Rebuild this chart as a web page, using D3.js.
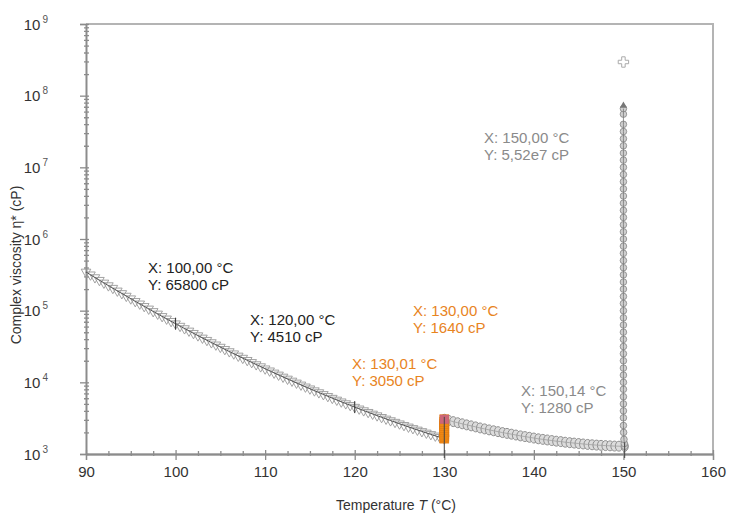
<!DOCTYPE html>
<html><head><meta charset="utf-8">
<script src="https://cdn.jsdelivr.net/npm/d3@7"></script>
<style>body{margin:0;background:#fff}svg{display:block}text{font-family:"Liberation Sans",Arial,sans-serif}</style>
</head><body><svg id="c" width="729" height="516"></svg>
<script>
// ---- data ----
const xTicks = [90,100,110,120,130,140,150,160];
const yExps = [3,4,5,6,7,8,9];
// series 1: cooling branch (triangles), 90..130 °C
const tempA = [90,90.5,91,91.5,92,92.5,93,93.5,94,94.5,95,95.5,96,96.5,97,97.5,98,98.5,99,99.5,100,100.5,101,101.5,102,102.5,103,103.5,104,104.5,105,105.5,106,106.5,107,107.5,108,108.5,109,109.5,110,110.5,111,111.5,112,112.5,113,113.5,114,114.5,115,115.5,116,116.5,117,117.5,118,118.5,119,119.5,120,120.5,121,121.5,122,122.5,123,123.5,124,124.5,125,125.5,126,126.5,127,127.5,128,128.5,129,129.5,130];
const viscA = [347000,317000,290000,266000,244000,224000,206000,189000,174000,160000,147000,135000,124600,115000,105900,97700,90140,83300,76900,71100,65800,60900,56360,52200,48400,44900,41660,38700,35940,33400,31060,28900,26910,25100,23360,21800,20320,19000,17720,16600,15480,14500,13550,12700,11890,11150,10460,9820,9215,8660,8140,7660,7205,6790,6390,6020,5680,5360,5060,4780,4510,4270,4040,3825,3622,3433,3254,3088,2931,2784,2645,2515,2391,2276,2167,2066,1969,1878,1792,1714,1640];
// series 2 : 130.01 .. 150.14 °C (grey band)
const tempB = [130.01,130.5,131,131.5,132,132.5,133,133.5,134,134.5,135,135.5,136,136.5,137,137.5,138,138.5,139,139.5,140,140.5,141,141.5,142,142.5,143,143.5,144,144.5,145,145.5,146,146.5,147,147.5,148,148.5,149,149.5,150.14];
const viscB = [3050,2940,2830,2730,2640,2550,2470,2390,2310,2240,2170,2110,2050,1990,1940,1890,1840,1790,1750,1710,1670,1630,1600,1570,1540,1510,1490,1460,1440,1420,1400,1380,1360,1345,1330,1320,1310,1300,1290,1285,1280];
// orange step at 130 °C
const tempC = [130,130,130,130,130,130,130,130,130,130];
const viscC = [1640,1750,1870,2000,2140,2290,2450,2620,2800,3050];
// vertical rise at 150 °C
const tempD = [150.14,150.1,150.06,150.02,150,150,150,150,150,150,150,150,150,150,150,150,150,150,150,150,150,150,150,150,150,150,150,150,150,150,150,150,150,150,150,150,150,150,150,150,150,150,150,150,150,150,150,150,150];
const viscD = [1280,1400,1600,2000,2500,3200,4000,5000,6300,8000,10000,12600,15800,20000,25100,31600,39800,50100,63100,79400,1e5,1.26e5,1.58e5,2e5,2.51e5,3.16e5,3.98e5,5.01e5,6.31e5,7.94e5,1e6,1.26e6,1.58e6,2e6,2.51e6,3.16e6,3.98e6,5.01e6,6.31e6,7.94e6,1e7,1.26e7,1.58e7,2e7,2.51e7,3.16e7,3.98e7,5.52e7,6.6e7];
const outlierT = [150];
const outlierV = [2.95e8];
// annotations
const notes = [
  {t:100, v:65800, lx:148, ly:273, l1:"X: 100,00 °C", l2:"Y: 65800 cP", c:"#222"},
  {t:120, v:4510, lx:250, ly:325, l1:"X: 120,00 °C", l2:"Y: 4510 cP", c:"#222"},
  {t:130.01, v:3050, lx:352, ly:369, l1:"X: 130,01 °C", l2:"Y: 3050 cP", c:"#e8841e"},
  {t:130, v:1640, lx:413, ly:316, l1:"X: 130,00 °C", l2:"Y: 1640 cP", c:"#e8841e"},
  {t:150.14, v:1280, lx:521, ly:396, l1:"X: 150,14 °C", l2:"Y: 1280 cP", c:"#8a8a8a"},
  {t:150, v:5.52e7, lx:484, ly:143, l1:"X: 150,00 °C", l2:"Y: 5,52e7 cP", c:"#8a8a8a"}
];

// ---- chart ----
const svg = d3.select("#c");
const x = d3.scaleLinear().domain([90,160]).range([86,713]);
const y = d3.scaleLog().domain([1e3,1e9]).range([454,24]);
const axisCol = "#8c8c8c";
const noText = g => g.selectAll(".tick text").remove();

// frame top/right
svg.append("path").attr("d",`M${x(90)},${y(1e9)}H${x(160)}V${y(1e3)}`)
  .attr("fill","none").attr("stroke","#b4b4b4").attr("stroke-width",2);

// x axis
const minorX = d3.range(90,160.01,2.5).filter(v=>v%10!==0);
const gx = svg.append("g").attr("transform",`translate(0,${y(1e3)})`);
gx.call(d3.axisBottom(x).tickValues(xTicks).tickSize(6).tickPadding(6).tickFormat(d3.format("d")));
gx.append("g").call(d3.axisBottom(x).tickValues(xTicks).tickSizeInner(-4).tickSizeOuter(0)).call(noText);
gx.append("g").call(d3.axisBottom(x).tickValues(minorX).tickSizeInner(-3).tickSizeOuter(0)).call(noText);
gx.append("g").call(d3.axisBottom(x).tickValues(minorX).tickSizeInner(2).tickSizeOuter(0)).call(noText);
gx.selectAll("path,line").attr("stroke",axisCol).attr("stroke-width",1.3);
gx.selectAll(".tick text").attr("font-size",15).attr("fill","#333");

// y axis
const majY = yExps.map(e=>Math.pow(10,e));
const minY = [];
yExps.slice(0,-1).forEach(e=>{for(let k=2;k<10;k++) minY.push(k*Math.pow(10,e));});
const gy = svg.append("g").attr("transform",`translate(${x(90)},0)`);
gy.call(d3.axisLeft(y).tickValues(majY).tickSize(6)).call(noText);
gy.append("g").call(d3.axisLeft(y).tickValues(majY).tickSizeInner(-3).tickSizeOuter(0)).call(noText);
gy.append("g").call(d3.axisLeft(y).tickValues(minY).tickSizeInner(-3).tickSizeOuter(0)).call(noText);
gy.append("g").call(d3.axisLeft(y).tickValues(minY).tickSizeInner(2).tickSizeOuter(0)).call(noText);
gy.selectAll("path,line").attr("stroke",axisCol).attr("stroke-width",1.3);
gy.selectAll(":scope > .tick").each(function(d){
  const t = d3.select(this).append("text").attr("x",-38).attr("dy","0.35em")
    .attr("font-size",15).attr("fill","#333");
  t.append("tspan").text("10");
  t.append("tspan").attr("dx",2).attr("dy",-7).attr("font-size",10).attr("fill","#555")
    .text(String(Math.round(Math.log10(d))));
});

// labels
svg.append("text").attr("x",396).attr("y",510).attr("text-anchor","middle").attr("font-size",14).attr("fill","#333")
  .call(t=>{t.append("tspan").text("Temperature ");t.append("tspan").attr("font-style","italic").text("T");t.append("tspan").text(" (°C)");});
svg.append("text").attr("transform","translate(21,265) rotate(-90)").attr("text-anchor","middle")
  .attr("font-size",14).attr("fill","#333").text("Complex viscosity η* (cP)");

// series B band
const B = tempB.map((t,i)=>[t,viscB[i]]);
svg.append("g").selectAll("ellipse").data(B).join("ellipse")
  .attr("cx",d=>x(d[0])).attr("cy",d=>y(d[1])).attr("rx",3.6).attr("ry",5)
  .attr("fill","#dcdcdc").attr("stroke","#858585").attr("stroke-width",0.9);
svg.append("path").datum(B).attr("d",d3.line().x(d=>x(d[0])).y(d=>y(d[1])))
  .attr("fill","none").attr("stroke","#a0a0a0").attr("stroke-width",0.8);

// spike D
const D = tempD.map((t,i)=>[t,viscD[i]]);
svg.append("g").selectAll("circle").data(D).join("circle")
  .attr("cx",d=>x(d[0])).attr("cy",d=>y(d[1])).attr("r",3.3)
  .attr("fill","#cfcfcf").attr("stroke","#858585").attr("stroke-width",0.8);
svg.append("path").datum(D).attr("d",d3.line().x(d=>x(d[0])).y(d=>y(d[1])))
  .attr("fill","none").attr("stroke","#777").attr("stroke-width",0.8);
svg.append("path").attr("transform",`translate(${x(150)},${y(6.6e7)-3})`)
  .attr("d",d3.symbol(d3.symbolTriangle,22)()).attr("fill","#777");

// outlier plus
svg.append("g").selectAll("path").data(outlierT.map((t,i)=>[t,outlierV[i]])).join("path")
  .attr("transform",d=>`translate(${x(d[0])},${y(d[1])})`)
  .attr("d",d3.symbol(d3.symbolCross,60)()).attr("fill","#fff").attr("stroke","#aaa").attr("stroke-width",1);

// series A
const A = tempA.map((t,i)=>[t,viscA[i]]);
svg.append("g").selectAll("path").data(A).join("path")
  .attr("transform",d=>`translate(${x(d[0])},${y(d[1])}) rotate(180)`)
  .attr("d",d3.symbol(d3.symbolTriangle,40)()).attr("fill","none").attr("stroke","#999").attr("stroke-width",0.9);
svg.append("path").datum(A).attr("d",d3.line().x(d=>x(d[0])).y(d=>y(d[1])))
  .attr("fill","none").attr("stroke","#444").attr("stroke-width",0.9);

// orange step
const C = tempC.map((t,i)=>[t,viscC[i]]);
svg.append("g").selectAll("rect").data(C).join("rect")
  .attr("x",d=>x(d[0])-4.5).attr("y",d=>y(d[1])-4.5).attr("width",9).attr("height",9)
  .attr("fill","#f08a14").attr("stroke","#e07810").attr("stroke-width",0.6);
svg.append("rect").attr("x",x(130.01)-4.5).attr("y",y(3050)-4.5).attr("width",9).attr("height",9)
  .attr("fill","#c05a9a").attr("opacity",0.75);

// cursor lines
[[130,1000,3300],[150.14,1000,1450]].forEach(([t,a,b])=>{
  svg.append("line").attr("x1",x(t)).attr("x2",x(t)).attr("y1",y(a)+4).attr("y2",y(b))
    .attr("stroke","#444").attr("stroke-width",1);
});
notes.forEach(n=>{
  if(n.t===100||n.t===120){
    svg.append("line").attr("x1",x(n.t)).attr("x2",x(n.t)).attr("y1",y(n.v)-6).attr("y2",y(n.v)+6)
      .attr("stroke","#333").attr("stroke-width",1);
  }
  const t = svg.append("text").attr("font-size",15).attr("fill",n.c);
  t.append("tspan").attr("x",n.lx).attr("y",n.ly).text(n.l1);
  t.append("tspan").attr("x",n.lx).attr("y",n.ly+17).text(n.l2);
});
</script></body></html>
